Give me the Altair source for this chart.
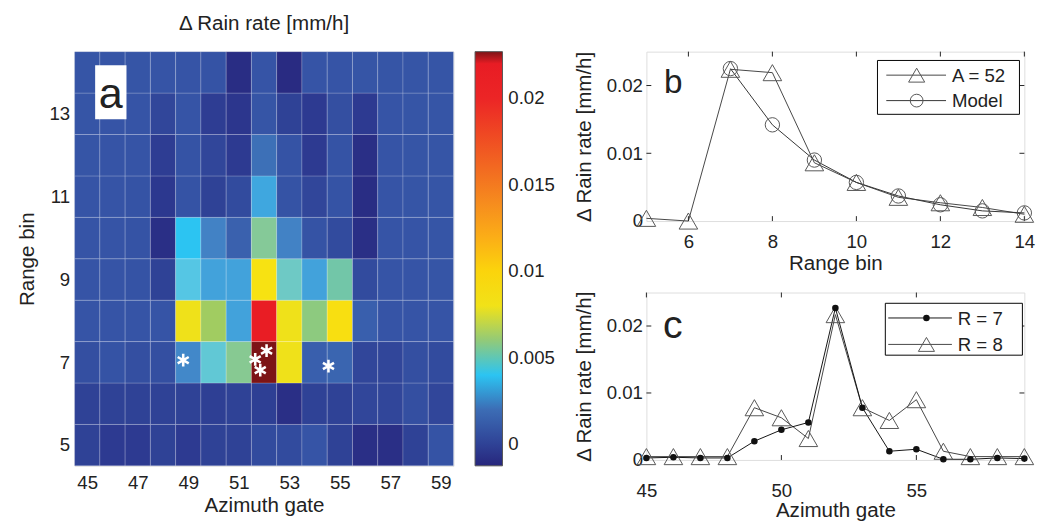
import altair as alt
import pandas as pd

FONT = "Liberation Sans"
INK = "#222222"

# ---------------- panel a : heat map ----------------
azimuth = list(range(45, 60))
range_bins = list(range(5, 15))

rate_r14 = [0.0006, 0.0006, 0.0006, 0.0005, 0.0005, 0.0004, -0.0009, 0.0005, -0.0010, 0.0005, 0.0005, 0.0006, 0.0006, 0.0006, 0.0006]
rate_r13 = [0.0006, 0.0005, 0.0005, 0.0001, 0.0005, -0.0002, -0.0005, 0.0006, 0.0000, -0.0003, 0.0003, -0.0003, 0.0005, 0.0006, 0.0006]
rate_r12 = [0.0006, 0.0005, 0.0005, -0.0002, 0.0004, 0.0001, -0.0003, 0.0021, 0.0004, -0.0003, 0.0004, -0.0008, 0.0005, 0.0006, 0.0006]
rate_r11 = [0.0005, 0.0005, 0.0004, -0.0004, 0.0004, 0.0000, 0.0002, 0.0033, 0.0004, 0.0001, 0.0004, -0.0009, 0.0005, 0.0006, 0.0006]
rate_r10 = [0.0005, 0.0005, 0.0004, -0.0008, 0.0040, 0.0027, 0.0014, 0.0055, 0.0027, 0.0004, 0.0002, -0.0008, 0.0005, 0.0005, 0.0006]
rate_r9 = [0.0005, 0.0005, 0.0004, 0.0000, 0.0043, 0.0032, 0.0032, 0.0088, 0.0047, 0.0032, 0.0051, 0.0002, 0.0005, 0.0005, 0.0006]
rate_r8 = [0.0005, 0.0005, 0.0005, 0.0005, 0.0078, 0.0063, 0.0032, 0.0217, 0.0078, 0.0059, 0.0090, 0.0013, 0.0005, 0.0005, 0.0005]
rate_r7 = [0.0003, 0.0004, 0.0003, 0.0003, 0.0028, 0.0045, 0.0056, 0.0227, 0.0078, 0.0013, 0.0016, 0.0001, 0.0001, 0.0003, 0.0002]
rate_r6 = [0.0000, 0.0000, 0.0000, 0.0000, 0.0000, -0.0001, 0.0000, -0.0001, -0.0008, 0.0000, 0.0000, 0.0001, 0.0001, 0.0003, 0.0001]
rate_r5 = [0.0000, -0.0003, -0.0003, 0.0000, -0.0003, 0.0000, 0.0000, 0.0002, 0.0002, 0.0005, 0.0000, -0.0008, -0.0008, 0.0000, 0.0004]

rows = {5: rate_r5, 6: rate_r6, 7: rate_r7, 8: rate_r8, 9: rate_r9,
        10: rate_r10, 11: rate_r11, 12: rate_r12, 13: rate_r13, 14: rate_r14}

star_az = [48.8, 52.1, 51.65, 51.85, 54.55]
star_rb = [7.05, 7.28, 7.07, 6.81, 6.91]

cmap_values = [-0.00125, -0.0008, -0.0003, 0.0, 0.0004, 0.0010, 0.0015, 0.0020, 0.0027, 0.0032,
               0.0036, 0.0040, 0.0043, 0.0047, 0.0051, 0.0055, 0.0059, 0.0064, 0.0070, 0.0075,
               0.0085, 0.0100, 0.0110, 0.0125, 0.0150, 0.0175, 0.0200, 0.0220, 0.0223, 0.0227]
cmap_colors = ["#27267c", "#2a2f86", "#2d3a91", "#2f4296", "#3553a5", "#385aa9", "#3a63af", "#3c6db5", "#4282c5", "#42a2db",
               "#36b6e9", "#2cc4f2", "#55c6e4", "#6ec9c5", "#72c6a8", "#85c998", "#8dca7f", "#a6cc5a", "#c8d634", "#ecdf1c",
               "#f6e514", "#fbd40c", "#fcc010", "#faa41a", "#f47a20", "#f04f22", "#ec2526", "#e81c24", "#b51c22", "#7d1416"]
colorbar_ticks = [0, 0.005, 0.01, 0.015, 0.02]

# ---------------- panel b ----------------
range_b = list(range(5, 15))
rate_a52 = [0.0004, 0.0000, 0.0224, 0.0219, 0.0086, 0.0057, 0.0035, 0.0027, 0.0020, 0.0010]
range_model = list(range(7, 15))
rate_model = [0.0225, 0.0142, 0.0090, 0.0057, 0.0037, 0.0024, 0.0015, 0.0012]
ticks_b_x = [6, 8, 10, 12, 14]

# ---------------- panel c ----------------
azimuth_c = list(range(45, 60))
rate_R7 = [0.0003, 0.0004, 0.0003, 0.0003, 0.0028, 0.0045, 0.0056, 0.0227, 0.0078, 0.0013, 0.0016, 0.0001, 0.0001, 0.0003, 0.0002]
rate_R8 = [0.0005, 0.0005, 0.0005, 0.0005, 0.0078, 0.0063, 0.0032, 0.0217, 0.0078, 0.0059, 0.0090, 0.0013, 0.0005, 0.0005, 0.0005]
ticks_c_x = [45, 50, 55]
ticks_y = [0.01, 0.02]

# ---------------------------------------------------------------
heat_df = pd.DataFrame([{"az": a, "rb": r, "v": rows[r][i]}
                        for r in range_bins for i, a in enumerate(azimuth)])
star_df = pd.DataFrame({"az": star_az, "rb": star_rb})
one = pd.DataFrame({"k": [0]})

axis_common = dict(labelFont=FONT, titleFont=FONT, labelFontSize=19, titleFontSize=21,
                   labelColor=INK, titleColor=INK, titleFontWeight="normal",
                   ticks=False, domain=False, grid=False, labelFlush=False)

x_a = alt.X("x0:Q", scale=alt.Scale(domain=[44.5, 59.5], nice=False, zero=False),
            axis=alt.Axis(values=azimuth[::2], title="Azimuth gate", labelPadding=8,
                          titlePadding=3, **axis_common))
y_a = alt.Y("y0:Q", scale=alt.Scale(domain=[4.5, 14.5], nice=False, zero=False),
            axis=alt.Axis(values=range_bins[::2], title="Range bin", labelPadding=5,
                          titlePadding=12, **axis_common))

heat = alt.Chart(heat_df).transform_calculate(
    x0="datum.az - 0.5", x1="datum.az + 0.5", y0="datum.rb - 0.5", y1="datum.rb + 0.5"
).mark_rect(stroke="white", strokeOpacity=0.2, strokeWidth=1).encode(
    x=x_a, x2="x1:Q", y=y_a, y2="y1:Q",
    color=alt.Color("v:Q",
                    scale=alt.Scale(domain=cmap_values, range=cmap_colors, clamp=True, interpolate="rgb"),
                    legend=alt.Legend(title=None, orient="right", direction="vertical",
                                      gradientLength=423, gradientThickness=28,
                                      values=colorbar_ticks, format="~g",
                                      labelFont=FONT, labelFontSize=19, labelColor=INK,
                                      offset=22, labelOffset=6,
                                      gradientStrokeColor="#555555", gradientStrokeWidth=1)),
)

asterisk = "M0,-1L0,1M-0.866,-0.5L0.866,0.5M-0.866,0.5L0.866,-0.5"
stars = alt.Chart(star_df).mark_point(shape=asterisk, filled=False, stroke="white",
                                      strokeWidth=2.6, size=170, opacity=1).encode(
    x=alt.X("az:Q"), y=alt.Y("rb:Q"))

a_box = alt.Chart(one).mark_rect(fill="white").encode(
    x=alt.value(21), x2=alt.value(53), y=alt.value(14), y2=alt.value(69))
a_txt = alt.Chart(one).mark_text(text="a", font=FONT, fontSize=44, color=INK,
                                 align="center", baseline="alphabetic").encode(
    x=alt.value(37), y=alt.value(58))

panel_a = alt.layer(heat, stars, a_box, a_txt).properties(
    width=387, height=423,
    title=alt.TitleParams("Δ Rain rate [mm/h]", font=FONT, fontSize=21, fontWeight="normal",
                          color=INK, offset=18, anchor="middle", frame="group"))


def legend_layers(entries, box):
    x0, x1, y0, y1, lx0, lx1, sx, tx = box
    layers = [alt.Chart(one).mark_rect(fill="white", stroke="black", strokeWidth=1).encode(
        x=alt.value(x0), x2=alt.value(x1), y=alt.value(y0), y2=alt.value(y1))]
    for label, mk, yy, lc in entries:
        layers.append(alt.Chart(one).mark_rule(color=lc, strokeWidth=1).encode(
            x=alt.value(lx0), x2=alt.value(lx1), y=alt.value(yy)))
        layers.append(alt.Chart(one).mark_point(**mk).encode(x=alt.value(sx), y=alt.value(yy)))
        layers.append(alt.Chart(one).mark_text(text=label, font=FONT, fontSize=19, color=INK,
                                               align="left", baseline="middle").encode(
            x=alt.value(tx), y=alt.value(yy + 1)))
    return layers


def tick_layers(xfield, xvals, yfield, yvals, w, h, n=5):
    xdf = pd.DataFrame({xfield: xvals})
    ydf = pd.DataFrame({yfield: yvals})
    out = []
    for y0, y1 in ((h, h - n), (0, n)):
        out.append(alt.Chart(xdf).mark_rule(color=INK, strokeWidth=1).encode(
            x=alt.X(f"{xfield}:Q"), y=alt.value(y0), y2=alt.value(y1)))
    for x0, x1 in ((0, n), (w, w - n)):
        out.append(alt.Chart(ydf).mark_rule(color=INK, strokeWidth=1).encode(
            y=alt.Y(f"{yfield}:Q"), x=alt.value(x0), x2=alt.value(x1)))
    return out


tri_style = dict(shape="triangle-up", filled=False, stroke="#555555", strokeWidth=1, size=360, opacity=1)
circ_style = dict(shape="circle", filled=False, stroke="#555555", strokeWidth=1, size=215, opacity=1)
dot_style = dict(shape="circle", filled=True, fill="#111111", stroke="#111111", size=22, opacity=1)

# ---------------- panel b chart ----------------
b_df_a = pd.DataFrame({"rb": range_b, "v": rate_a52})
b_df_m = pd.DataFrame({"rb": range_model, "v": rate_model})

x_b = alt.X("rb:Q", scale=alt.Scale(domain=[5, 14], nice=False, zero=False),
            axis=alt.Axis(values=ticks_b_x, title="Range bin", labelPadding=12,
                          titlePadding=2, **axis_common))
y_b = alt.Y("v:Q", scale=alt.Scale(domain=[0, 0.025], nice=False, zero=False),
            axis=alt.Axis(values=[0] + ticks_y, format="~g", title="Δ Rain rate [mm/h]",
                          labelPadding=4, titlePadding=12, **axis_common))

b_layers = [
    alt.Chart(b_df_a).mark_line(color="#444444", strokeWidth=1).encode(x=x_b, y=y_b),
    alt.Chart(b_df_m).mark_line(color="#333333", strokeWidth=1).encode(x=x_b, y=y_b),
]
b_layers += tick_layers("rb", ticks_b_x, "v", ticks_y, 386, 173)
b_layers += [
    alt.Chart(b_df_a).mark_point(**tri_style).encode(x=x_b, y=y_b),
    alt.Chart(b_df_m).mark_point(**circ_style).encode(x=x_b, y=y_b),
]
b_layers += legend_layers(
    [("A = 52", dict(tri_style, size=270), 24, "#444444"),
     ("Model", dict(circ_style, size=170), 50, "#333333")],
    (236, 381, 9, 64, 245, 306, 276, 312))
b_layers.append(alt.Chart(one).mark_text(text="b", font=FONT, fontSize=34, color=INK,
                                         align="left", baseline="alphabetic").encode(
    x=alt.value(18), y=alt.value(42)))

panel_b = alt.layer(*b_layers).properties(
    width=386, height=173,
    title=alt.TitleParams(" ", font=FONT, fontSize=21, offset=19))

# ---------------- panel c chart ----------------
c_df_7 = pd.DataFrame({"az": azimuth_c, "v": rate_R7})
c_df_8 = pd.DataFrame({"az": azimuth_c, "v": rate_R8})

x_c = alt.X("az:Q", scale=alt.Scale(domain=[45, 59], nice=False, zero=False),
            axis=alt.Axis(values=ticks_c_x, title="Azimuth gate", labelPadding=22,
                          titlePadding=0, **axis_common))
y_c = alt.Y("v:Q", scale=alt.Scale(domain=[0, 0.025], nice=False, zero=False),
            axis=alt.Axis(values=[0] + ticks_y, format="~g", title="Δ Rain rate [mm/h]",
                          labelPadding=4, titlePadding=12, **axis_common))

c_layers = [
    alt.Chart(c_df_8).mark_line(color="#444444", strokeWidth=1).encode(x=x_c, y=y_c),
    alt.Chart(c_df_7).mark_line(color="#111111", strokeWidth=1).encode(x=x_c, y=y_c),
]
c_layers += tick_layers("az", ticks_c_x, "v", ticks_y, 386, 171)
c_layers += [
    alt.Chart(c_df_8).mark_point(**tri_style).encode(x=x_c, y=y_c),
    alt.Chart(c_df_7).mark_point(**dot_style).encode(x=x_c, y=y_c),
]
c_layers += legend_layers(
    [("R = 7", dict(dot_style), 26, "#111111"),
     ("R = 8", dict(tri_style, size=270), 53, "#444444")],
    (244, 384, 11, 64, 247, 312, 286, 318))
c_layers.append(alt.Chart(one).mark_text(text="c", font=FONT, fontSize=40, color=INK,
                                         align="left", baseline="alphabetic").encode(
    x=alt.value(17), y=alt.value(46)))

panel_c = alt.layer(*c_layers).properties(width=386, height=171)

right = alt.vconcat(panel_b, panel_c, spacing=15)

chart = alt.hconcat(panel_a, right, spacing=17).resolve_legend(
    color="independent"
).properties(
    padding={"left": 8, "top": -3, "right": 5, "bottom": 5}
).configure_view(
    stroke="#222222", strokeWidth=1
).configure(background="white", font=FONT)

chart.save("out.html", embed_options={"renderer": "svg", "actions": False})
